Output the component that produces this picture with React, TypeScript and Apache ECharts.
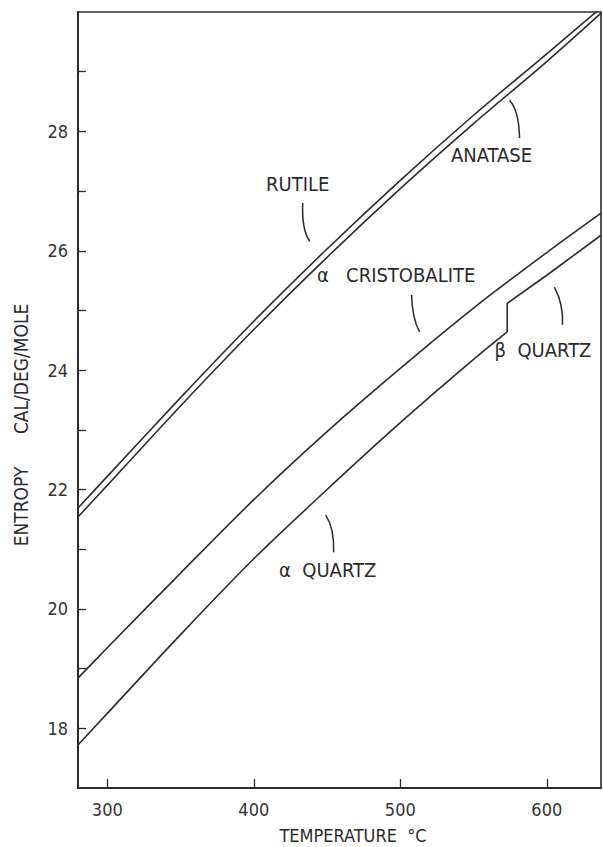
import React, { useEffect, useRef } from "react";
import * as echarts from "echarts";

// Temperature (°C) grid for the smooth curves
const temps = [280, 300, 350, 400, 450, 500, 550, 600, 637];
// Entropy, cal/deg/mole
const rutile = [21.69, 22.22, 23.54, 24.82, 26.03, 27.18, 28.27, 29.3, 30.07];
const anatase = [21.54, 22.07, 23.4, 24.68, 25.89, 27.04, 28.13, 29.17, 29.98];
const cristobalite = [18.84, 19.35, 20.6, 21.83, 22.97, 24.03, 25.04, 25.97, 26.63];
// Quartz: alpha form up to the 573 °C transition, beta form above it
const alphaQuartzTemps = [280, 300, 350, 400, 450, 500, 550, 573];
const alphaQuartz = [17.72, 18.25, 19.57, 20.84, 22.0, 23.12, 24.18, 24.64];
const betaQuartzTemps = [573, 573, 600, 637];
const betaQuartz = [24.64, 25.12, 25.59, 26.26];

const xTicks = [300, 400, 500, 600];
const yTicks = [18, 19, 20, 21, 22, 23, 24, 25, 26, 27, 28, 29];
const yLabels = [18, 20, 22, 24, 26, 28];

// Curve labels in data coordinates: text anchor, leader start, leader control, leader end
const labelTexts = ["RUTILE", "ANATASE", "α   CRISTOBALITE", "β  QUARTZ", "α  QUARTZ"];
const labelPos = [
  [430.0, 27.12],
  [562.3, 27.6],
  [497.2, 25.59],
  [597.4, 24.34],
  [450.4, 20.65],
];
const leaderStart = [
  [433.4, 26.8],
  [574.5, 28.52],
  [507.7, 25.26],
  [605.2, 25.39],
  [449.1, 21.57],
];
const leaderCtrl = [
  [432.6, 26.35],
  [581.0, 28.35],
  [508.2, 24.86],
  [611.5, 25.1],
  [455.0, 21.35],
];
const leaderEnd = [
  [438.2, 26.16],
  [581.4, 27.89],
  [513.2, 24.64],
  [610.7, 24.76],
  [454.5, 20.95],
];

const FONT = "'DejaVu Sans Condensed', 'DejaVu Sans', sans-serif";
const INK = "#2b2b2b";

const pairs = (xs: number[], ys: number[]) => xs.map((x, i) => [x, ys[i]]);

export default function App() {
  const ref = useRef<HTMLDivElement>(null);

  useEffect(() => {
    document.body.style.margin = "0";
    if (!ref.current) return;
    const chart = echarts.init(ref.current, null, { renderer: "svg" });

    const lineSeries = (name: string, data: number[][], smooth: number | boolean) => ({
      name,
      type: "line",
      data,
      showSymbol: false,
      symbol: "none",
      smooth,
      clip: true,
      lineStyle: { color: INK, width: 1.6 },
    });

    chart.setOption({
      animation: false,
      backgroundColor: "#ffffff",
      grid: {
        left: 78,
        right: 2,
        top: 12,
        bottom: 59,
        show: true,
        borderColor: INK,
        borderWidth: 1.6,
      },
      xAxis: {
        type: "value",
        min: 280,
        max: 637,
        axisLine: { show: true, lineStyle: { color: INK, width: 2 } },
        axisTick: {
          show: true,
          inside: true,
          length: 9,
          customValues: xTicks,
          lineStyle: { color: INK, width: 1.3 },
        },
        axisLabel: {
          customValues: xTicks,
          margin: 12,
          color: "#333",
          fontSize: 18,
          fontFamily: FONT,
        },
        splitLine: { show: false },
      },
      yAxis: {
        type: "value",
        min: 17,
        max: 30,
        axisLine: { show: true, lineStyle: { color: INK, width: 2 } },
        axisTick: {
          show: true,
          inside: true,
          length: 8,
          customValues: yTicks,
          lineStyle: { color: INK, width: 1.3 },
        },
        axisLabel: {
          customValues: yLabels,
          margin: 10,
          color: "#333",
          fontSize: 18,
          fontFamily: FONT,
          padding: [0, 0, 9, 0],
        },
        splitLine: { show: false },
      },
      series: [
        lineSeries("Rutile", pairs(temps, rutile), 0.3),
        lineSeries("Anatase", pairs(temps, anatase), 0.3),
        lineSeries("α Cristobalite", pairs(temps, cristobalite), 0.3),
        lineSeries("α Quartz", pairs(alphaQuartzTemps, alphaQuartz), 0.3),
        lineSeries("β Quartz", pairs(betaQuartzTemps, betaQuartz), false),
      ],
    });

    const px = (p: number[]) => chart.convertToPixel({ gridIndex: 0 }, p) as number[];
    const graphics: any[] = [];
    labelTexts.forEach((t, i) => {
      const a = px(labelPos[i]);
      graphics.push({
        type: "text",
        x: a[0],
        y: a[1],
        style: {
          text: t,
          fill: "#2a2a2a",
          font: `20px ${FONT}`,
          align: "center",
          verticalAlign: "middle",
        },
      });
      const s = px(leaderStart[i]);
      const c = px(leaderCtrl[i]);
      const e = px(leaderEnd[i]);
      graphics.push({
        type: "bezierCurve",
        shape: { x1: s[0], y1: s[1], cpx1: c[0], cpy1: c[1], x2: e[0], y2: e[1] },
        style: { stroke: INK, lineWidth: 1.5, fill: null },
      });
    });
    graphics.push({
      type: "text",
      x: 353,
      y: 835,
      style: {
        text: "TEMPERATURE  °C",
        fill: "#2a2a2a",
        font: `18px ${FONT}`,
        align: "center",
        verticalAlign: "middle",
      },
    });
    graphics.push({
      type: "text",
      x: 21,
      y: 425,
      rotation: Math.PI / 2,
      style: {
        text: "ENTROPY      CAL/DEG/MOLE",
        fill: "#2a2a2a",
        font: `19px ${FONT}`,
        align: "center",
        verticalAlign: "middle",
      },
    });
    chart.setOption({ graphic: graphics });

    return () => chart.dispose();
  }, []);

  return <div ref={ref} style={{ width: 603, height: 847 }} />;
}
